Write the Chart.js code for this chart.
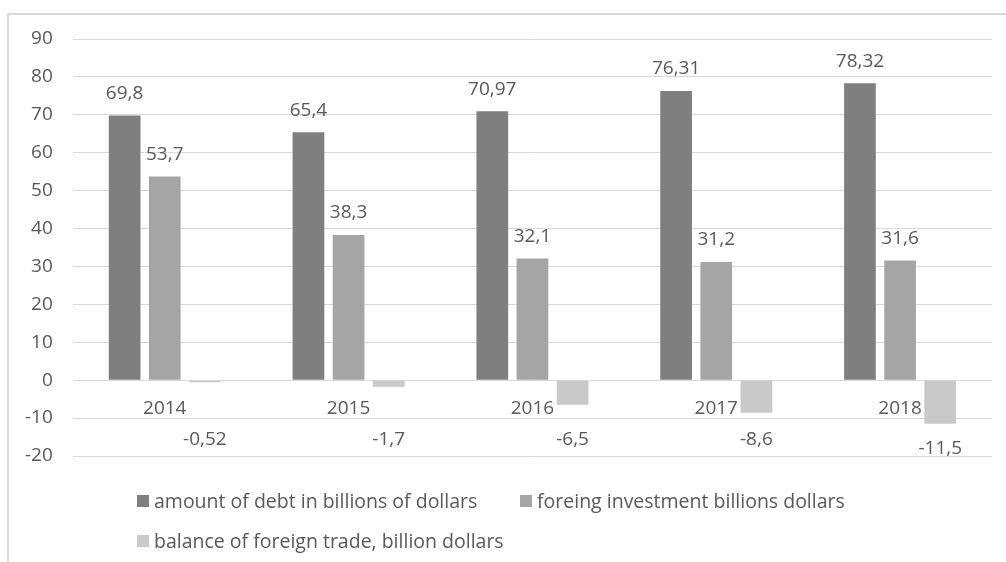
<!DOCTYPE html>
<html>
<head>
<meta charset="utf-8">
<script src="https://cdn.jsdelivr.net/npm/chart.js@4/dist/chart.umd.min.js"></script>
<style>
  html, body { margin: 0; padding: 0; background: #fff; }
  #wrap { position: relative; width: 1006px; height: 562px; }
</style>
</head>
<body>
<div id="wrap"><canvas id="barChart"></canvas></div>
<script>
const years = ['2014', '2015', '2016', '2017', '2018'];
const debt = [69.8, 65.4, 70.97, 76.31, 78.32];
const investment = [53.7, 38.3, 32.1, 31.2, 31.6];
const tradeBalance = [-0.52, -1.7, -6.5, -8.6, -11.5];
const seriesNames = [
  'amount of debt in billions of dollars',
  'foreing investment billions dollars',
  'balance of foreign trade, billion dollars'
];
const seriesColors = ['#7f7f7f', '#a5a5a5', '#c9c9c9'];

const FONT = '"Open Sans", "Liberation Sans", sans-serif';
const TEXT = '#595959';

// frame round the chart
const framePlugin = {
  id: 'frame',
  beforeDraw(chart) {
    const c = chart.ctx;
    c.save();
    c.strokeStyle = '#d9d9d9';
    c.lineWidth = 2;
    c.beginPath();
    c.moveTo(8, chart.height);
    c.lineTo(8, 14);
    c.lineTo(chart.width, 14);
    c.stroke();
    c.restore();
  }
};

// value labels with comma decimals
const valueLabels = {
  id: 'valueLabels',
  afterDatasetsDraw(chart) {
    const c = chart.ctx;
    const yScale = chart.scales.y;
    c.save();
    c.font = '19px ' + FONT;
    c.fillStyle = TEXT;
    c.textAlign = 'center';
    c.textBaseline = 'middle';
    chart.data.datasets.forEach((ds, i) => {
      chart.getDatasetMeta(i).data.forEach((bar, j) => {
        const v = ds.data[j];
        let y;
        if (v >= 0) {
          y = bar.y - 22;
        } else {
          y = Math.max(bar.y + 25, yScale.getPixelForValue(-15.6));
        }
        c.fillText(String(v).replace('.', ','), bar.x, y);
      });
    });
    c.restore();
  }
};

// legend laid out like the original (left aligned rows)
const legendPlugin = {
  id: 'sideLegend',
  afterDraw(chart) {
    const c = chart.ctx;
    const spots = [[137, 501], [520, 501], [137, 541]];
    c.save();
    c.font = '19.5px ' + FONT;
    c.textBaseline = 'middle';
    chart.data.datasets.forEach((ds, i) => {
      const [x, y] = spots[i];
      c.fillStyle = ds.backgroundColor;
      c.fillRect(x, y - 6, 12, 12);
      c.fillStyle = TEXT;
      c.fillText(ds.label, x + 17, y + 1);
    });
    c.restore();
  }
};

const ctx1 = document.getElementById('barChart').getContext('2d');
const chartData1 = {
  labels: years,
  datasets: [debt, investment, tradeBalance].map((d, i) => ({
    label: seriesNames[i],
    data: d,
    backgroundColor: seriesColors[i],
    categoryPercentage: 0.655,
    barPercentage: 0.79
  }))
};

const config1 = {
  type: 'bar',
  data: chartData1,
  options: {
    responsive: true,
    maintainAspectRatio: false,
    animation: false,
    layout: { padding: { left: 5, right: 14, top: 39, bottom: 106 } },
    scales: {
      x: {
        position: { y: 0 },
        grid: { display: false, drawTicks: false },
        border: { display: false },
        ticks: { color: TEXT, font: { family: FONT, size: 19 }, padding: 17 }
      },
      y: {
        min: -20,
        max: 90,
        ticks: { stepSize: 10, color: TEXT, font: { family: FONT, size: 19 }, padding: 20 },
        grid: { color: '#d9d9d9', lineWidth: 1, drawTicks: false },
        border: { display: false }
      }
    },
    plugins: {
      legend: { display: false },
      tooltip: { enabled: false }
    }
  },
  plugins: [framePlugin, valueLabels, legendPlugin]
};

const myChart1 = new Chart(ctx1, config1);
</script>
</body>
</html>
